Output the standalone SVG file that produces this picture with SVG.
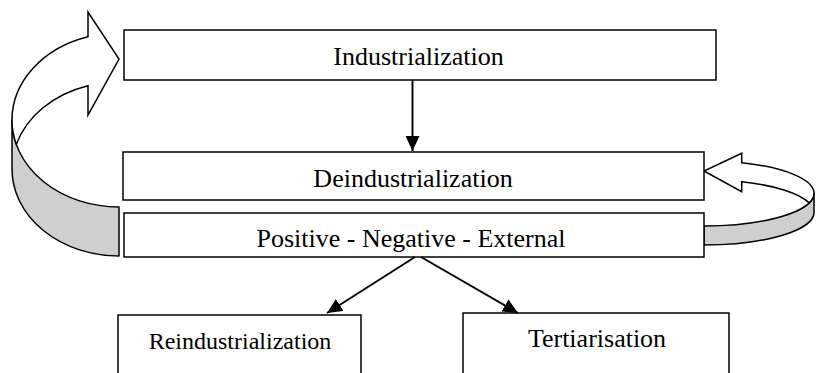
<svg xmlns="http://www.w3.org/2000/svg" width="816" height="373" viewBox="0 0 816 373">
<style>
.box{fill:#fff;stroke:#000;stroke-width:1.5}
.lbl{font-family:"Liberation Serif","Times New Roman",serif;font-size:26px;fill:#000;text-anchor:middle}
.con{stroke:#000;stroke-width:2;fill:none}
.back{fill:#cfcfcf;stroke:#000;stroke-width:1.5;stroke-linejoin:round}
.front{fill:#fff;stroke:#000;stroke-width:1.5;stroke-linejoin:miter}
</style>
<defs>
<marker id="ah" markerUnits="userSpaceOnUse" markerWidth="16" markerHeight="15" refX="15" refY="7" orient="auto">
<path d="M0,0 L15,7 L0,14 Z" fill="#000"/>
</marker>
<clipPath id="clipPos"><rect x="124" y="213" width="580" height="39"/></clipPath>
</defs>
<g id="loop-left">
<path class="back" d="M119,207 A107,87 0 0 1 12,120 L12,169 A107,87 0 0 0 119,256 Z"/>
<path class="front" d="M12,120 A107,87 0 0 1 88,36.7 L88,12 L119,59 L88,115 L88,85.7 A107,87 0 0 0 16.3,144.5 A107,87 0 0 1 12,120 Z"/>
</g>
<g id="loop-right">
<path class="back" d="M704,226 A110,32.6 0 0 0 814,193.4 L814,212.4 A110,32.6 0 0 1 704,245 Z"/>
<path class="front" d="M814,193.4 A110,32.6 0 0 0 741.7,162.7 L741.7,153.3 L704,171 L741.7,191.7 L741.7,181.7 A110,32.6 0 0 1 809.2,202.9 A110,32.6 0 0 0 814,193.4 Z"/>
</g>
<g id="industrialization">
<rect class="box" x="124" y="30" width="592" height="50"/>
<text class="lbl" x="418.5" y="65">Industrialization</text>
</g>
<g id="deindustrialization">
<rect class="box" x="123" y="152" width="581" height="48"/>
<text class="lbl" x="413" y="187">Deindustrialization</text>
</g>
<g id="effects">
<rect class="box" x="124" y="213" width="580" height="44"/>
<text class="lbl" x="411" y="247" clip-path="url(#clipPos)">Positive - Negative - External</text>
</g>
<g id="reindustrialization">
<rect class="box" x="118" y="315" width="243" height="62"/>
<text class="lbl" x="240" y="349" style="font-size:24px">Reindustrialization</text>
</g>
<g id="tertiarisation">
<rect class="box" x="463" y="313" width="266" height="64"/>
<text class="lbl" x="597" y="347">Tertiarisation</text>
</g>
<g id="connectors">
<line class="con" x1="412.5" y1="80" x2="412.5" y2="151" marker-end="url(#ah)"/>
<line class="con" x1="415" y1="257" x2="327" y2="313" marker-end="url(#ah)"/>
<line class="con" x1="421" y1="257" x2="518" y2="313" marker-end="url(#ah)"/>
</g>
</svg>
